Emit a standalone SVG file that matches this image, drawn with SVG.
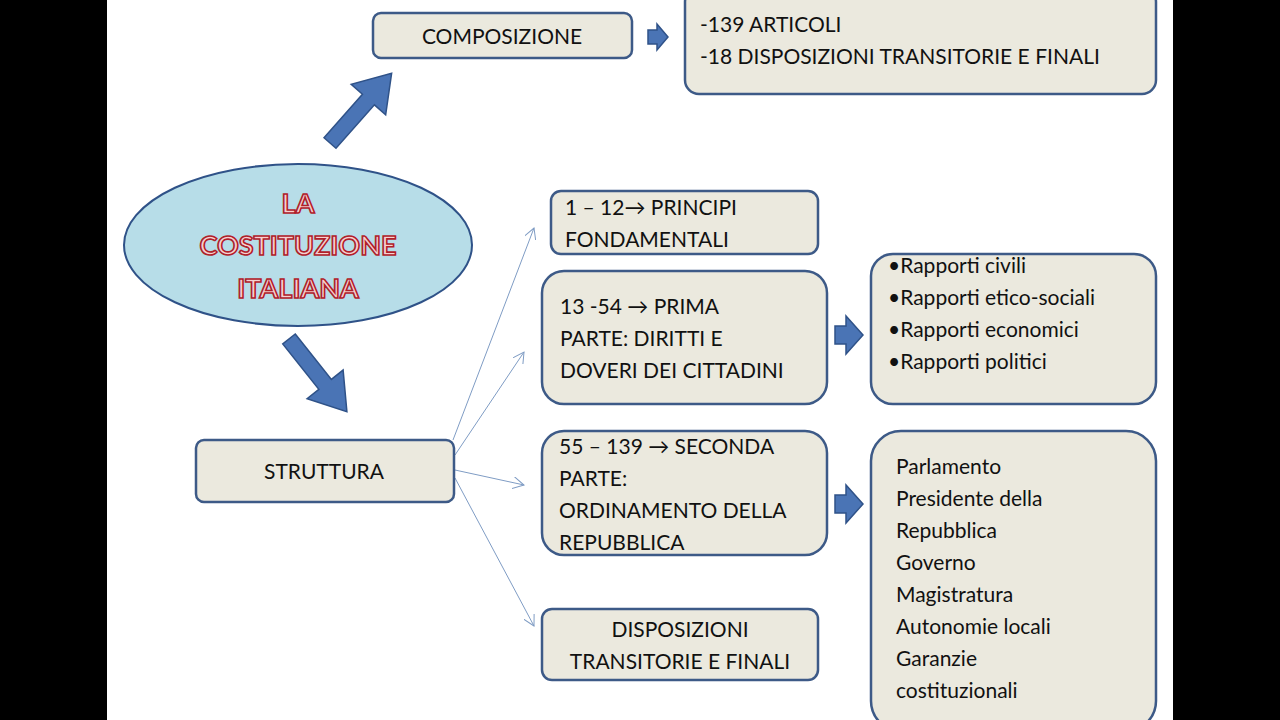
<svg xmlns="http://www.w3.org/2000/svg" width="1280" height="720" viewBox="0 0 1280 720">
<defs>
<style>
.box{fill:#ebe9de;stroke:#3d5a87;stroke-width:2.5}
.t{font-family:Lato,"Open Sans",sans-serif;font-size:21px;fill:#111}
.big{fill:#4a74b5;stroke:#2f5288;stroke-width:1.5}
.thin{stroke:#7f9cc4;stroke-width:1;fill:none;marker-end:url(#oa)}
.title{font-family:Lato,"Open Sans",sans-serif;font-weight:bold;font-size:27px;fill:#f6d0d0;stroke:#b0202a;stroke-width:1.6;text-anchor:middle}
</style>
<marker id="oa" viewBox="0 0 12 12" refX="11" refY="6" markerWidth="12" markerHeight="12" markerUnits="userSpaceOnUse" orient="auto"><path d="M0,0 L11,6 L0,12" fill="none" stroke="#7f9cc4" stroke-width="1"/></marker>
<polygon id="bigarrow" points="0,-8 58,-8 58,-23 93,0 58,23 58,8 0,8"/>
<polygon id="smallarrow" points="0,-6 10,-6 10,-13 20,0 10,13 10,6 0,6"/>
</defs>
<rect width="1280" height="720" fill="#fff"/>
<rect x="0" y="0" width="107" height="720" fill="#000"/>
<rect x="1173" y="0" width="107" height="720" fill="#000"/>
<g id="connectors">
<use href="#bigarrow" class="big" transform="translate(330,143) rotate(-48.5)"/>
<use href="#bigarrow" class="big" transform="translate(289,339) rotate(51.5)"/>
<polygon class="big" points="648,30 657,30 657,24 668,37 657,50 657,44 648,44"/>
<polygon class="big" points="835,326 846,326 846,316 863,335 846,354 846,344 835,344"/>
<polygon class="big" points="835,495 846,495 846,485 863,504 846,523 846,513 835,513"/>
<path class="thin" d="M453,440 L534,228"/>
<path class="thin" d="M455,455 L524,352"/>
<path class="thin" d="M455,470 L524,485"/>
<path class="thin" d="M455,478 L534,626"/>
</g>
<g id="composizione"><rect class="box" x="373" y="13" width="259" height="45" rx="8"/><text class="t" x="502" y="44" text-anchor="middle">COMPOSIZIONE</text></g>
<g id="articoli"><rect class="box" x="685" y="-12" width="471" height="106" rx="14"/><text class="t" x="700" y="32" font-size="22">-139 ARTICOLI</text><text class="t" x="700" y="64" font-size="22">-18 DISPOSIZIONI TRANSITORIE E FINALI</text></g>
<g id="titolo"><ellipse cx="298" cy="245" rx="174" ry="81" fill="#b7dde8" stroke="#2f5288" stroke-width="2"/>
<text class="title" x="298" y="213">LA</text><text class="title" x="298" y="255">COSTITUZIONE</text><text class="title" x="298" y="298">ITALIANA</text></g>
<g id="struttura"><rect class="box" x="196" y="440" width="258" height="62" rx="8"/><text class="t" x="324" y="479" text-anchor="middle" font-size="22">STRUTTURA</text></g>
<g id="principi"><rect class="box" x="551" y="191" width="267" height="63" rx="10"/><text class="t" x="565" y="215">1 – 12→ PRINCIPI</text><text class="t" x="565" y="247">FONDAMENTALI</text></g>
<g id="prima"><rect class="box" x="542" y="271" width="285" height="133" rx="22"/><text class="t" x="560" y="314">13 -54 → PRIMA</text><text class="t" x="560" y="346">PARTE: DIRITTI E</text><text class="t" x="560" y="378">DOVERI DEI CITTADINI</text></g>
<g id="seconda"><rect class="box" x="542" y="431" width="285" height="124" rx="22"/><text class="t" x="559" y="454">55 – 139 → SECONDA</text><text class="t" x="559" y="486">PARTE:</text><text class="t" x="559" y="518">ORDINAMENTO DELLA</text><text class="t" x="559" y="550">REPUBBLICA</text></g>
<g id="disposizioni"><rect class="box" x="542" y="609" width="276" height="71" rx="10"/><text class="t" x="680" y="637" text-anchor="middle">DISPOSIZIONI</text><text class="t" x="680" y="669" text-anchor="middle">TRANSITORIE E FINALI</text></g>
<g id="rapporti"><rect class="box" x="871" y="254" width="285" height="150" rx="22"/><text class="t" x="888" y="273">•Rapporti civili</text><text class="t" x="888" y="305">•Rapporti etico-sociali</text><text class="t" x="888" y="337">•Rapporti economici</text><text class="t" x="888" y="369">•Rapporti politici</text></g>
<g id="organi"><rect class="box" x="871" y="431" width="285" height="300" rx="30"/>
<text class="t" x="896" y="474">Parlamento</text><text class="t" x="896" y="506">Presidente della</text><text class="t" x="896" y="538">Repubblica</text><text class="t" x="896" y="570">Governo</text><text class="t" x="896" y="602">Magistratura</text><text class="t" x="896" y="634">Autonomie locali</text><text class="t" x="896" y="666">Garanzie</text><text class="t" x="896" y="698">costituzionali</text></g>
</svg>
